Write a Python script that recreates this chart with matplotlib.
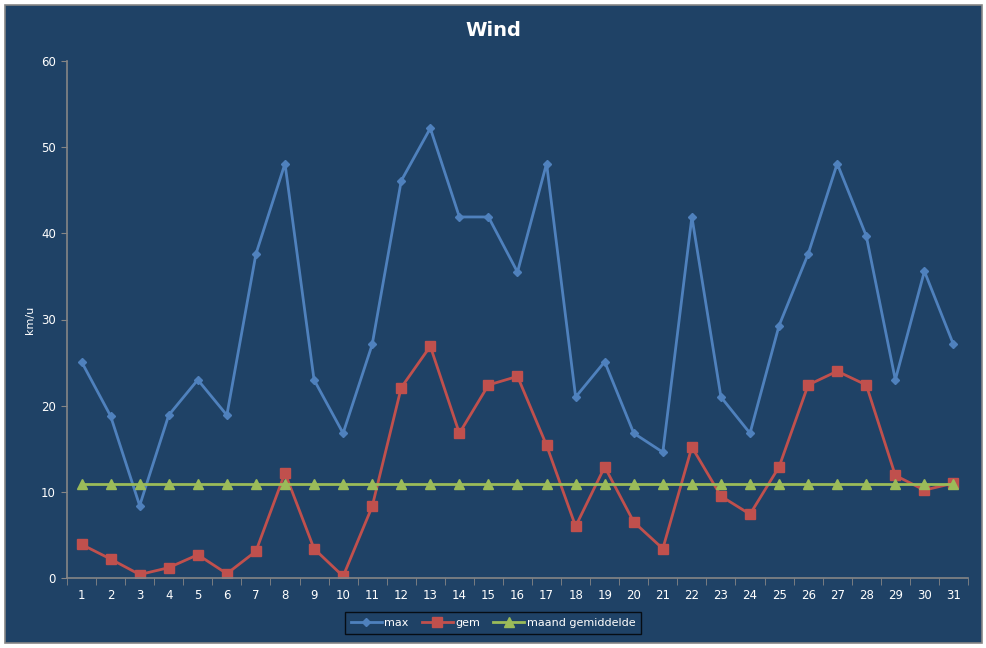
import numpy as np
import matplotlib
matplotlib.use("Agg")
import matplotlib.pyplot as plt
from matplotlib.patches import Rectangle
from matplotlib.ticker import MultipleLocator, FixedLocator

# ── Data ──────────────────────────────────────────────────────────────────────

days = list(range(1, 32))
max_wind = [25.1, 18.8, 8.4, 18.9, 23.0, 18.9, 37.6, 48.1, 23.0, 16.8,
            27.1, 46.1, 52.2, 41.9, 41.9, 35.5, 48.1, 21.0, 25.1, 16.8,
            14.6, 41.9, 21.0, 16.8, 29.3, 37.6, 48.1, 39.7, 23.0, 35.6, 27.1]
gem_wind = [3.9, 2.2, 0.4, 1.2, 2.7, 0.5, 3.1, 12.2, 3.4, 0.2,
            8.3, 22.1, 26.9, 16.8, 22.4, 23.4, 15.4, 6.0, 12.9, 6.5,
            3.4, 15.2, 9.5, 7.4, 12.9, 22.4, 24.0, 22.4, 11.9, 10.2, 11.0]
maand_gem = [10.9] * 31

BG = "#1F4266"
AXIS = "#868686"

# ── Figure ────────────────────────────────────────────────────────────────────

fig = plt.figure(figsize=(9.87, 6.48), dpi=100)
fig.patch.set_facecolor("white")
fig.patches.append(Rectangle((5 / 987, 1 - 643 / 648), 977 / 987, 638 / 648,
                             transform=fig.transFigure, facecolor=BG,
                             edgecolor=AXIS, linewidth=1.2, zorder=-10))

ax = fig.add_axes([67 / 987, 1 - 578 / 648, 901 / 987, 517 / 648])
ax.set_facecolor(BG)

ax.plot(days, max_wind, color="#4F81BD", linewidth=2.0, marker="D",
        markersize=4.5, label="max")
ax.plot(days, gem_wind, color="#C0504D", linewidth=2.0, marker="s",
        markersize=6.5, label="gem")
ax.plot(days, maand_gem, color="#9BBB59", linewidth=2.0, marker="^",
        markersize=6.5, label="maand gemiddelde")

ax.set_xlim(0.5, 31.5)
ax.set_ylim(0, 60)
ax.yaxis.set_major_locator(MultipleLocator(10))
ax.set_xticks(days)
ax.xaxis.set_minor_locator(FixedLocator(np.arange(0.5, 32, 1)))
ax.tick_params(axis="x", which="major", length=0, pad=8, colors="white",
               labelsize=8.5)
ax.tick_params(axis="x", which="minor", length=5, color=AXIS, direction="out")
ax.tick_params(axis="y", which="major", length=4, color=AXIS, colors="white",
               labelsize=8.5, pad=4)
ax.tick_params(axis="y", color=AXIS)

for side in ["top", "right"]:
    ax.spines[side].set_visible(False)
for side in ["left", "bottom"]:
    ax.spines[side].set_color(AXIS)
    ax.spines[side].set_linewidth(1.2)

ax.set_ylabel("km/u", color="white", fontsize=8, labelpad=4)
fig.text(493 / 987, 1 - 30 / 648, "Wind", color="white", fontsize=14,
         fontweight="bold", ha="center", va="center")

leg = fig.legend(loc="center", bbox_to_anchor=(493 / 987, 1 - 623 / 648),
                 ncol=3, frameon=True, fontsize=8, handlelength=2.8,
                 columnspacing=1.2, handletextpad=0.2, borderpad=0.5,
                 fancybox=False)
leg.get_frame().set_facecolor(BG)
leg.get_frame().set_edgecolor("black")
leg.get_frame().set_linewidth(1.0)
for t in leg.get_texts():
    t.set_color("white")

fig.savefig("out.png", dpi=100, facecolor=fig.get_facecolor())
